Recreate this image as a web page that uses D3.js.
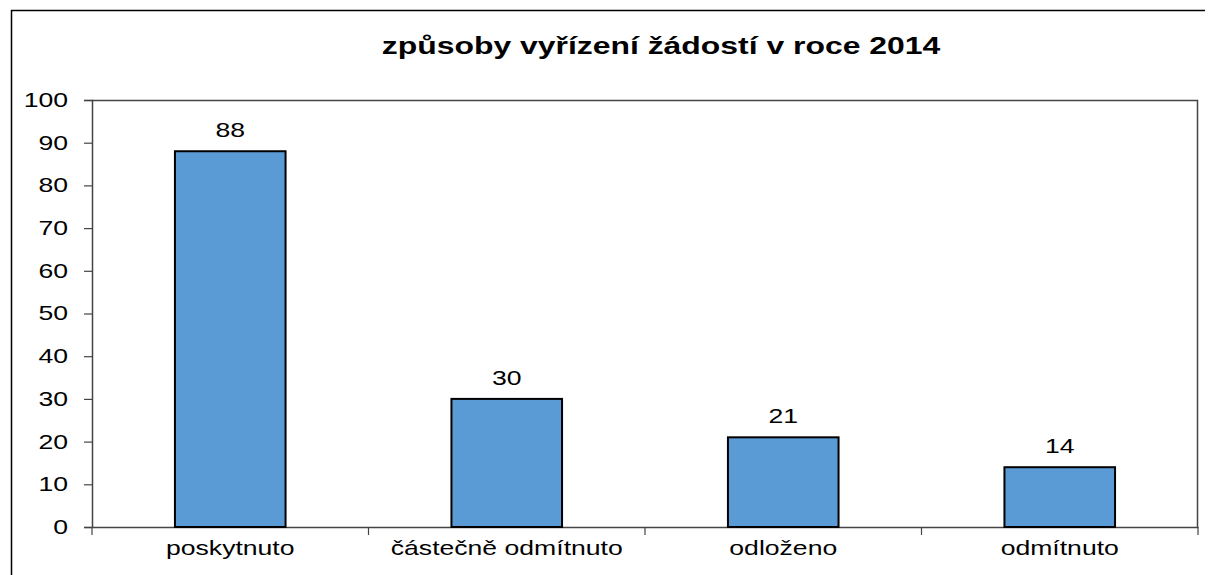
<!DOCTYPE html>
<html>
<head>
<meta charset="utf-8">
<script src="https://cdn.jsdelivr.net/npm/d3@7"></script>
<style>
  body { margin: 0; background: #fff; }
  text { font-family: "Liberation Sans", Arial, sans-serif; fill: #000; }
</style>
</head>
<body>
<div id="chart"></div>
<script>
var categories = ["poskytnuto", "částečně odmítnuto", "odloženo", "odmítnuto"];
var values = [88, 30, 21, 14];
var yTicks = [0, 10, 20, 30, 40, 50, 60, 70, 80, 90, 100];
var title = "způsoby vyřízení žádostí v roce 2014";

var width = 1209;
var height = 575;
var margin = { top: 100, left: 92, right: 11, bottom: 48 };
var stretch = 1.33; // text in the original is wider than normal

var svg = d3.select("#chart")
    .append("svg")
    .attr("width", width)
    .attr("height", height);

// outer frame (top + left visible)
svg.append("path")
    .attr("d", "M11.5,575 L11.5,10.5 L1205,10.5")
    .attr("fill", "none")
    .attr("stroke", "#000")
    .attr("stroke-width", 1.5);

var xScale = d3.scaleBand()
    .domain(categories)
    .range([margin.left, width - margin.right])
    .padding(0);

var yScale = d3.scaleLinear()
    .domain([0, 100])
    .range([height - margin.bottom, margin.top]);

var plotRight = width - margin.right;
var plotBottom = height - margin.bottom;

// plot area border top + right
svg.append("path")
    .attr("d", `M${margin.left},${margin.top + 0.5} L${plotRight - 0.5},${margin.top + 0.5} L${plotRight - 0.5},${plotBottom}`)
    .attr("fill", "none")
    .attr("stroke", "#444")
    .attr("stroke-width", 1.5);

// y axis
var yAxis = svg.append("g")
    .attr("transform", `translate(${margin.left},0)`)
    .call(d3.axisLeft(yScale).tickValues(yTicks).tickSize(8));
yAxis.select(".domain").attr("stroke", "#444").attr("stroke-width", 1.5);
yAxis.selectAll(".tick line").attr("stroke", "#444").attr("stroke-width", 1.2);
yAxis.selectAll("text")
    .attr("x", -24 / stretch)
    .attr("transform", `scale(${stretch},1)`)
    .attr("font-size", 20).attr("fill", "#000")
    .style("font-family", "Liberation Sans, Arial, sans-serif");

// x axis with ticks at category boundaries
var xAxis = svg.append("g")
    .attr("transform", `translate(0,${plotBottom})`)
    .call(d3.axisBottom(xScale).tickSize(0).tickPadding(14));
xAxis.select(".domain").attr("stroke", "#444").attr("stroke-width", 1.5);
xAxis.selectAll("text")
    .attr("transform", `scale(${stretch},1)`)
    .attr("font-size", 20).attr("fill", "#000")
    .style("font-family", "Liberation Sans, Arial, sans-serif");

var bounds = categories.map(function(c) { return xScale(c); }).concat([xScale.range()[1]]);
svg.selectAll(".xtick")
    .data(bounds)
    .enter()
    .append("line")
    .attr("class", "xtick")
    .attr("x1", function(d) { return d; })
    .attr("x2", function(d) { return d; })
    .attr("y1", plotBottom)
    .attr("y2", plotBottom + 8)
    .attr("stroke", "#444")
    .attr("stroke-width", 1.2);

// bars
var barW = xScale.bandwidth() * 0.4;
svg.selectAll(".bar")
    .data(values)
    .enter()
    .append("rect")
    .attr("class", "bar")
    .attr("x", function(d, i) { return xScale(categories[i]) + xScale.bandwidth() / 2 - barW / 2; })
    .attr("y", function(d) { return yScale(d); })
    .attr("width", barW)
    .attr("height", function(d) { return plotBottom - yScale(d); })
    .attr("fill", "#5b9bd5")
    .attr("stroke", "#000")
    .attr("stroke-width", 2);

// value labels
svg.selectAll(".val")
    .data(values)
    .enter()
    .append("text")
    .attr("class", "val")
    .attr("transform", function(d, i) {
        var cx = xScale(categories[i]) + xScale.bandwidth() / 2;
        return `translate(${cx},${yScale(d) - 14}) scale(${stretch},1)`;
    })
    .attr("text-anchor", "middle")
    .attr("font-size", 20)
    .text(function(d) { return d; });

// title
svg.append("text")
    .attr("transform", `translate(661,54) scale(${stretch},1)`)
    .attr("text-anchor", "middle")
    .attr("font-size", 24)
    .attr("font-weight", "bold")
    .text(title);
</script>
</body>
</html>
